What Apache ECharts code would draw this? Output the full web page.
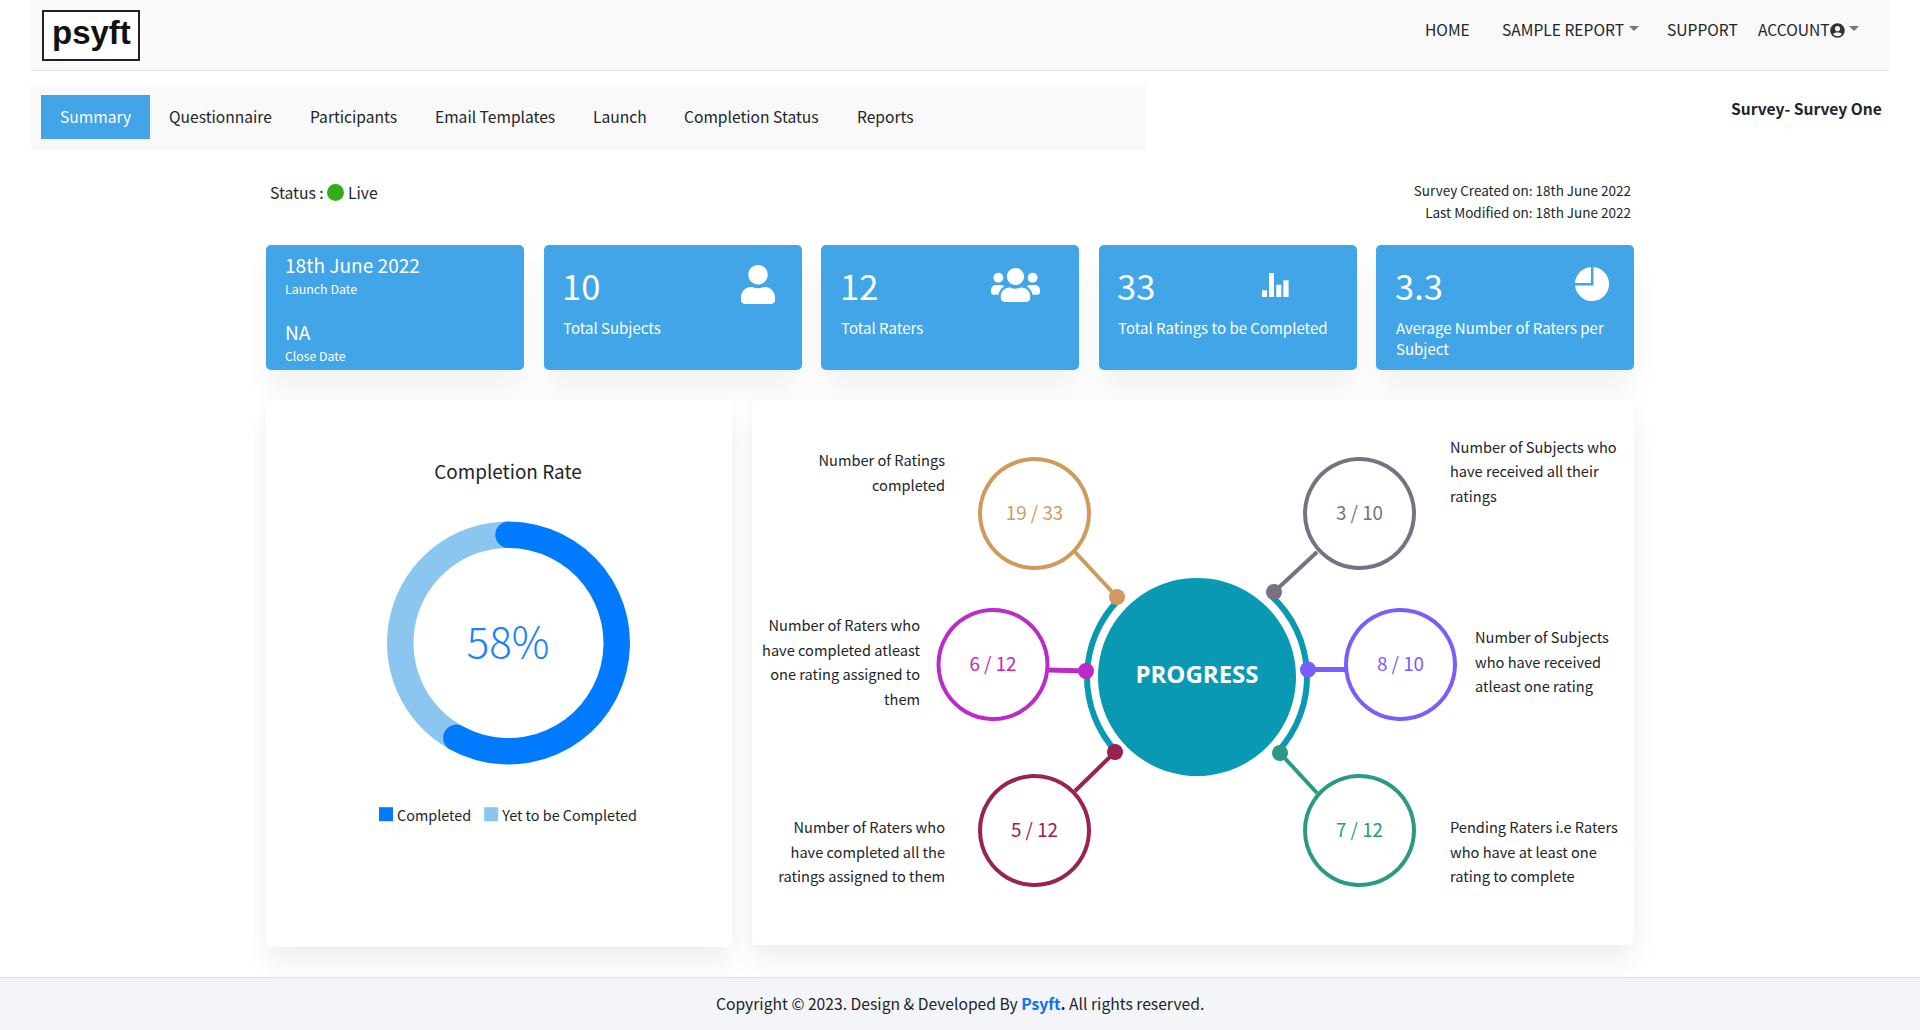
<!DOCTYPE html>
<html>
<head>
<meta charset="utf-8">
<title>Survey Summary</title>
<script src="https://cdn.jsdelivr.net/npm/echarts@6/dist/echarts.min.js"></script>
<style>
  html, body { margin: 0; padding: 0; background: #fff; overflow: hidden; }
  body { width: 1920px; height: 1030px; position: relative; font-family: "Noto Sans CJK JP", "Noto Sans", sans-serif; color: #212529; }
  .box { position: absolute; }
  .t { position: absolute; white-space: nowrap; line-height: 1; transform: translateY(calc(-50% - 0.5px)); }
  .r { transform: translate(-100%, calc(-50% - 0.5px)); }
  .card { position: absolute; top: 245px; width: 257.5px; height: 125px; background: #41a5e8; border-radius: 5px; box-shadow: 0 20px 27px rgba(0,0,0,.05); }
  .panel { position: absolute; top: 400px; background: #fff; border-radius: 6px; box-shadow: 0 20px 27px rgba(0,0,0,.05), 0 0 20px rgba(0,0,0,.03); }
  .w { color: #fff; }
  .caret { position: absolute; width: 0; height: 0; border-left: 5px solid transparent; border-right: 5px solid transparent; border-top: 5px solid #777; }
  svg.ico { position: absolute; fill: #fff; }
</style>
</head>
<body>
<div class="box" style="left:31px;top:0;width:1858px;height:70px;background:#f9f9f9;border-bottom:1px solid #e2e2ea"></div>
<div class="box" style="left:42px;top:10px;width:94px;height:47px;background:#fff;border:2px solid #222"></div>
<div class="t" style="left:52px;top:33px;font:bold 33px 'Liberation Sans';color:#111;">psyft</div>

<div id="topLinks"></div>
<div class="caret" style="left:1629px;top:26px"></div>
<svg class="ico" style="left:1830px;top:23px;width:15px;height:15px;fill:#333" viewBox="0 0 496 512"><path d="M248 8C111 8 0 119 0 256s111 248 248 248 248-111 248-248S385 8 248 8zm0 96c48.600 0 88 39.400 88 88s-39.400 88-88 88-88-39.400-88-88 39.400-88 88-88zm0 344c-58.700 0-111.300-26.600-146.500-68.200 18.800-35.400 55.600-59.800 98.500-59.800 2.400 0 4.800.4 7.100 1.100 13 4.200 26.600 6.900 40.900 6.900 14.300 0 28-2.700 40.900-6.900 2.300-.7 4.700-1.100 7.100-1.100 42.900 0 79.700 24.400 98.500 59.800C359.300 421.400 306.700 448 248 448z"/></svg>
<div class="caret" style="left:1849px;top:26px"></div>

<div class="box" style="left:31px;top:85px;width:1115px;height:65px;background:#f9f9f9"></div>
<div class="box" style="left:41px;top:95px;width:109px;height:44px;background:#41a5e8"></div>
<div id="tabs"></div>

<div class="t" style="left:1731px;top:109px;font-size:15.6px;font-weight:700;color:#212529">Survey- Survey One</div>
<div class="t" style="left:270px;top:193px;font-size:15.7px">Status :</div>
<div class="box" style="left:327px;top:184px;width:17px;height:17px;border-radius:50%;background:#34ad1c"></div>
<div class="t" style="left:348px;top:193px;font-size:15.7px">Live</div>
<div class="t r" style="left:1631px;top:191px;font-size:13.5px">Survey Created on: 18th June 2022</div>
<div class="t r" style="left:1631px;top:213px;font-size:13.5px">Last Modified on: 18th June 2022</div>

<div class="card" style="left:266px"></div>
<div class="card" style="left:544px"></div>
<div class="card" style="left:821px"></div>
<div class="card" style="left:1099px"></div>
<div class="card" style="left:1376px"></div>
<div id="cardText"></div>

<svg class="ico" style="left:741px;top:265px;width:34px;height:39px" viewBox="0 0 448 512" preserveAspectRatio="none"><path d="M224 256c70.700 0 128-57.300 128-128S294.700 0 224 0 96 57.300 96 128s57.300 128 128 128zm89.600 32h-16.700c-22.200 10.200-46.900 16-72.900 16s-50.600-5.800-72.900-16h-16.700C60.200 288 0 348.200 0 422.400V464c0 26.500 21.500 48 48 48h352c26.500 0 48-21.500 48-48v-41.600c0-74.200-60.200-134.400-134.400-134.400z"/></svg>
<svg class="ico" style="left:991px;top:268px;width:49px;height:34px" viewBox="0 32 640 448" preserveAspectRatio="none"><path d="M96 224c35.300 0 64-28.700 64-64s-28.700-64-64-64-64 28.700-64 64 28.700 64 64 64zm448 0c35.300 0 64-28.700 64-64s-28.700-64-64-64-64 28.700-64 64 28.700 64 64 64zm32 32h-64c-17.600 0-33.500 7.100-45.100 18.600 40.300 22.100 68.900 62 75.100 109.400h66c17.700 0 32-14.300 32-32v-32c0-35.300-28.700-64-64-64zm-256 0c61.900 0 112-50.100 112-112S381.900 32 320 32 208 82.100 208 144s50.100 112 112 112zm76.800 32h-8.300c-20.800 10-43.900 16-68.500 16s-47.600-6-68.500-16h-8.300C179.600 288 128 339.600 128 403.200V432c0 26.500 21.500 48 48 48h288c26.500 0 48-21.500 48-48v-28.800c0-63.600-51.600-115.200-115.200-115.200zm-223.700-13.400C161.500 263.100 145.600 256 128 256H64c-35.300 0-64 28.700-64 64v32c0 17.700 14.300 32 32 32h65.900c6.300-47.400 34.900-87.300 75.200-109.400z"/></svg>
<svg class="ico" style="left:1262px;top:273px;width:27px;height:24px" viewBox="0 0 27 24"><rect x="0" y="17.300" width="5" height="6.700"/><rect x="7" y="0" width="5" height="24"/><rect x="14.300" y="11.700" width="5" height="12.300"/><rect x="21.300" y="7.300" width="5.300" height="16.700"/></svg>
<svg class="ico" style="left:1575px;top:267px;width:34px;height:34px" viewBox="0 0 34 34"><path d="M16 0 A17 17 0 0 0 0 16 H16 Z"/><path d="M18.500 0.070 A17 17 0 1 1 0.070 18.500 H18.500 Z"/></svg>

<div class="panel" style="left:266px;width:466px;height:547px"></div>
<div class="panel" style="left:752px;width:882px;height:545px"></div>
<div id="rateChart" class="box" style="left:266px;top:400px;width:466px;height:547px"></div>
<div id="hubChart" class="box" style="left:752px;top:400px;width:882px;height:545px"></div>
<div id="captions"></div>

<div class="box" style="left:0;top:977px;width:1920px;height:52px;background:#f4f5f9;border-top:1px solid #e2e2e6"></div>
<div class="t" style="left:716px;top:1004px;font-size:15.66px">Copyright © 2023. Design &amp; Developed By <b style="color:#0d6efd">Psyft</b><b>.</b> All rights reserved.</div>

<script>
const FONT = '"Noto Sans CJK JP", "Noto Sans", sans-serif';

// nav and tabs
const topLinks = ["HOME", "SAMPLE REPORT", "SUPPORT", "ACCOUNT"];
const topLinkLeft = [1425, 1502, 1667, 1758];
const tabNames = ["Summary", "Questionnaire", "Participants", "Email Templates", "Launch", "Completion Status", "Reports"];
const tabLeft = [60, 169, 310, 435, 593, 684, 857];

// top cards
const cardValues = ["10", "12", "33", "3.3"];
const cardLabels = ["Total Subjects", "Total Raters", "Total Ratings to be Completed", "Average Number of Raters per"];
const cardLeft = [563, 841, 1118, 1396];

// donut
const rateNames = ["Completed", "Yet to be Completed"];
const rateValues = [58, 42];

// progress diagram
const doneCounts = [19, 6, 5, 3, 8, 7];
const totalCounts = [33, 12, 12, 10, 10, 12];
const captions = [
  ["Number of Ratings", "completed"],
  ["Number of Raters who", "have completed atleast", "one rating assigned to", "them"],
  ["Number of Raters who", "have completed all the", "ratings assigned to them"],
  ["Number of Subjects who", "have received all their", "ratings"],
  ["Number of Subjects", "who have received", "atleast one rating"],
  ["Pending Raters i.e Raters", "who have at least one", "rating to complete"],
];

// layout of the diagram, in page pixels
const ringColors = ["#d09a5c", "#bd2ac8", "#9a2150", "#767282", "#7a5cff", "#2a9a84"];
const ringCenters = [[1034.5, 513.5], [993, 664.5], [1034.5, 830.5], [1359.5, 513.5], [1400.5, 664.5], [1359.5, 830.5]];
const dotCenters = [[1117, 597], [1086, 671], [1115, 752], [1274, 592], [1308, 669.5], [1280, 753]];
const lineEnds = [[1075, 552], [1049, 670], [1075, 791], [1317, 552], [1345, 669.5], [1317, 793]];
const captionAnchor = [[945, 461], [920, 626], [945, 828], [1450, 447.5], [1475, 638], [1450, 828]];
const hubCenter = [1197, 677];

function addText(parentId, text, left, top, size, cls, weight) {
  const el = document.createElement("div");
  el.className = "t " + (cls || "");
  el.style.left = left + "px";
  el.style.top = top + "px";
  el.style.fontSize = size + "px";
  if (weight) el.style.fontWeight = weight;
  el.textContent = text;
  document.getElementById(parentId).appendChild(el);
}

topLinks.forEach((name, i) => addText("topLinks", name, topLinkLeft[i], 29.5, 15.6));
tabNames.forEach((name, i) => addText("tabs", name, tabLeft[i], 117, 15.6, i === 0 ? "w" : ""));

addText("cardText", "18th June 2022", 285, 266, 19.1, "w");
addText("cardText", "Launch Date", 285, 290, 12.4, "w");
addText("cardText", "NA", 285, 333, 19.1, "w");
addText("cardText", "Close Date", 285, 357, 12.3, "w");
cardValues.forEach((v, i) => {
  addText("cardText", v, cardLeft[i] - 1, 286, 34.5, "w");
  addText("cardText", cardLabels[i], cardLeft[i], 328, 15, "w");
});
addText("cardText", "Subject", cardLeft[3], 349, 15, "w");

captions.forEach((lines, i) => {
  lines.forEach((line, j) => {
    addText("captions", line, captionAnchor[i][0], captionAnchor[i][1] + j * 24.5, 14.6, i < 3 ? "r" : "");
  });
});

// Completion rate donut
const rateChart = echarts.init(document.getElementById("rateChart"), null, { renderer: "svg" });
rateChart.setOption({
  animation: false,
  title: {
    text: "Completion Rate",
    left: 237,
    top: 56,
    textAlign: "center",
    textStyle: { fontFamily: FONT, fontSize: 18.9, fontWeight: "normal", color: "#212529" },
    subtext: rateValues[0] + "%",
    subtextStyle: { fontFamily: FONT, fontSize: 42, fontWeight: 300, color: "#1a84f7" },
    itemGap: 139,
  },
  legend: {
    left: 108,
    top: 402,
    itemWidth: 14,
    itemHeight: 14,
    itemGap: 13,
    icon: "rect",
    selectedMode: false,
    data: rateNames,
    textStyle: { fontFamily: FONT, fontSize: 14.4, color: "#212529", padding: [0, 0, 0, -1] },
  },
  polar: { center: [242.5, 243], radius: [95, 121.5] },
  angleAxis: { type: "value", min: 0, max: 100, startAngle: 90, show: false },
  radiusAxis: { type: "category", data: ["rate"], show: false },
  series: [
    {
      name: rateNames[0],
      type: "bar",
      coordinateSystem: "polar",
      stack: "rate",
      barWidth: "100%",
      roundCap: true,
      silent: true,
      data: [rateValues[0]],
      itemStyle: { color: "#007bff" },
      z: 3,
    },
    {
      name: rateNames[1],
      type: "bar",
      coordinateSystem: "polar",
      stack: "rate",
      barWidth: "100%",
      silent: true,
      data: [rateValues[1]],
      itemStyle: { color: "#8ac6f0" },
      z: 2,
    },
  ],
});

// Progress hub
const hubNodes = [];
const hubLinks = [];
hubNodes.push({
  name: "PROGRESS",
  value: hubCenter,
  symbolSize: 198,
  itemStyle: { color: "#0a99b3" },
  label: { show: true, color: "#fff", fontFamily: "Open Sans", fontSize: 24, fontWeight: 700, offset: [0, -4] },
});
doneCounts.forEach((done, i) => {
  const color = ringColors[i];
  hubNodes.push({ name: "end" + i, value: lineEnds[i], symbolSize: 1, itemStyle: { color } });
  hubNodes.push({ name: "dot" + i, value: dotCenters[i], symbolSize: 16, itemStyle: { color } });
  hubNodes.push({
    name: done + " / " + totalCounts[i],
    value: ringCenters[i],
    symbolSize: 109,
    itemStyle: { color: "#fff", borderColor: color, borderWidth: 4 },
    label: { show: true, color, fontFamily: FONT, fontSize: 18.8, offset: [0, -2] },
  });
  hubLinks.push({
    source: "end" + i,
    target: "dot" + i,
    lineStyle: { color, width: i === 1 || i === 4 ? 5 : 4, opacity: 1, curveness: 0 },
  });
});

const hubChart = echarts.init(document.getElementById("hubChart"), null, { renderer: "svg" });
hubChart.setOption({
  animation: false,
  grid: { left: 0, right: 0, top: 0, bottom: 0 },
  xAxis: { type: "value", min: 752, max: 1634, show: false },
  yAxis: { type: "value", min: 400, max: 945, inverse: true, show: false },
  series: [
    {
      // two teal arcs around the hub, the other two slices stay empty
      type: "pie",
      center: [hubCenter[0] - 752, hubCenter[1] - 400],
      radius: [107, 113],
      startAngle: 90 - 42,
      clockwise: true,
      silent: true,
      label: { show: false },
      labelLine: { show: false },
      z: 1,
      data: [
        { value: 91, itemStyle: { color: "#0a99b3" } },
        { value: 94, itemStyle: { color: "transparent" } },
        { value: 88, itemStyle: { color: "#0a99b3" } },
        { value: 87, itemStyle: { color: "transparent" } },
      ],
    },
    {
      type: "graph",
      coordinateSystem: "cartesian2d",
      silent: true,
      z: 2,
      label: { show: false, position: "inside", formatter: "{b}" },
      data: hubNodes,
      links: hubLinks,
    },
  ],
});
</script>
</body>
</html>
